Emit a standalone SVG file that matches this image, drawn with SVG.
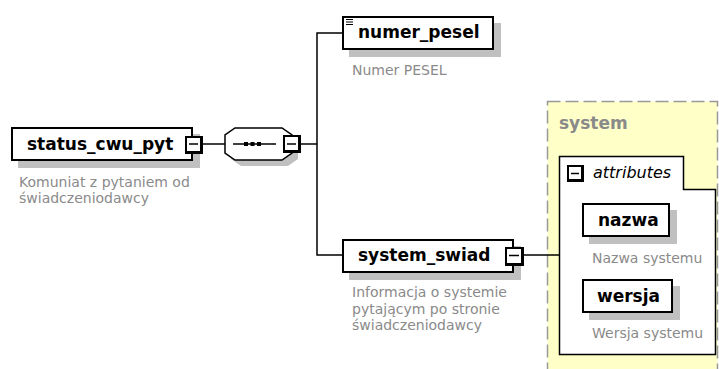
<svg xmlns="http://www.w3.org/2000/svg" width="719" height="369" viewBox="0 0 719 369">
<style>
  .box{fill:#fff;stroke:#000;stroke-width:2}
  .shadow{fill:#c0c0c0}
  .name{font-family:"DejaVu Sans",Verdana,sans-serif;font-weight:bold;font-size:17px;fill:#000}
  .desc{font-family:"DejaVu Sans",Verdana,sans-serif;font-size:14px;fill:#8a8a8a}
  .btnb{fill:#000}
  .btnw{fill:#fff}
  .minus{stroke:#000;stroke-width:1.5}
  .conn{stroke:#000;stroke-width:1.5;fill:none}
</style>
<rect width="719" height="369" fill="#fff"/>

<g id="system_group">
  <rect x="547.5" y="101.5" width="170" height="300" fill="#ffffc8" stroke="#999" stroke-width="1.5" stroke-dasharray="13,5"/>
  <text x="559" y="129" style="font-family:'DejaVu Sans',Verdana,sans-serif;font-weight:bold;font-size:17px;fill:#8a8a8a">system</text>
</g>

<g id="connectors">
  <line class="conn" x1="203" y1="144" x2="225" y2="144"/>
  <line class="conn" x1="301" y1="144" x2="317" y2="144"/>
  <polyline class="conn" points="342,33 317,33 317,255 342,255"/>
  <line class="conn" x1="524" y1="255" x2="559" y2="255"/>
</g>

<g id="status_cwu_pyt">
  <rect class="shadow" x="18" y="134" width="182" height="34"/>
  <rect class="box" x="12" y="128" width="180" height="32"/>
  <text class="name" x="27" y="150">status_cwu_pyt</text>
  <rect class="btnb" x="185" y="136" width="18" height="18"/>
  <rect class="btnw" x="187" y="138" width="13" height="13"/>
  <line class="minus" x1="189" y1="144" x2="198" y2="144"/>
  <text class="desc" x="19" y="186.5">Komuniat z pytaniem od</text>
  <text class="desc" x="19" y="203">świadczeniodawcy</text>
</g>

<g id="sequence">
  <polygon class="shadow" points="241,134 288,134 298,141 298,159 288,166 241,166 231,159 231,141"/>
  <polygon fill="#fff" stroke="#000" stroke-width="1.5" points="235,128 282,128 292,135 292,153 282,160 235,160 225,153 225,135"/>
  <line class="conn" x1="233" y1="144" x2="276" y2="144"/>
  <rect x="244" y="142" width="4" height="4" fill="#000"/>
  <rect x="250.5" y="142" width="4" height="4" fill="#000"/>
  <rect x="257" y="142" width="4" height="4" fill="#000"/>
  <rect class="btnb" x="283" y="135" width="18" height="18"/>
  <rect class="btnw" x="285" y="137" width="13" height="13"/>
  <line class="minus" x1="287" y1="144" x2="296" y2="144"/>
</g>

<g id="numer_pesel">
  <rect class="shadow" x="349" y="23" width="152" height="34"/>
  <rect class="box" x="343" y="17" width="150" height="32"/>
  <g stroke="#000" stroke-width="1">
    <line x1="346" y1="19.5" x2="353" y2="19.5"/>
    <line x1="346" y1="22" x2="353" y2="22"/>
    <line x1="346" y1="24.5" x2="353" y2="24.5"/>
  </g>
  <text class="name" x="358" y="38">numer_pesel</text>
  <text class="desc" x="352" y="75">Numer PESEL</text>
</g>

<g id="system_swiad">
  <rect class="shadow" x="349" y="246" width="172" height="34"/>
  <rect class="box" x="343" y="240" width="170" height="32"/>
  <text class="name" x="358" y="261">system_swiad</text>
  <rect class="btnb" x="505" y="247" width="19" height="19"/>
  <rect class="btnw" x="507" y="249" width="14" height="14"/>
  <line class="minus" x1="509" y1="255.5" x2="519" y2="255.5"/>
  <text class="desc" x="352" y="297">Informacja o systemie</text>
  <text class="desc" x="352" y="313.5">pytającym po stronie</text>
  <text class="desc" x="352" y="330">świadczeniodawcy</text>
</g>

<g id="attributes">
  <path d="M559.5,156.5 H683.5 V189.5 H715.5 V354.5 H559.5 Z" fill="#fff" stroke="#000" stroke-width="1.5"/>
  <rect class="btnb" x="567" y="165" width="17" height="17"/>
  <rect class="btnw" x="569" y="167" width="12" height="12"/>
  <line class="minus" x1="571" y1="173.5" x2="579" y2="173.5"/>
  <text x="593" y="177.5" style="font-family:'DejaVu Sans',Verdana,sans-serif;font-style:italic;font-size:16px;fill:#000">attributes</text>
</g>

<g id="nazwa">
  <rect class="shadow" x="589" y="210" width="88" height="34"/>
  <rect class="box" x="583" y="204" width="86" height="32"/>
  <text class="name" x="598" y="226">nazwa</text>
  <text class="desc" x="592" y="263">Nazwa systemu</text>
</g>

<g id="wersja">
  <rect class="shadow" x="589" y="286" width="91" height="34"/>
  <rect class="box" x="583" y="280" width="89" height="32"/>
  <text class="name" x="597" y="302">wersja</text>
  <text class="desc" x="592" y="338">Wersja systemu</text>
</g>
</svg>
